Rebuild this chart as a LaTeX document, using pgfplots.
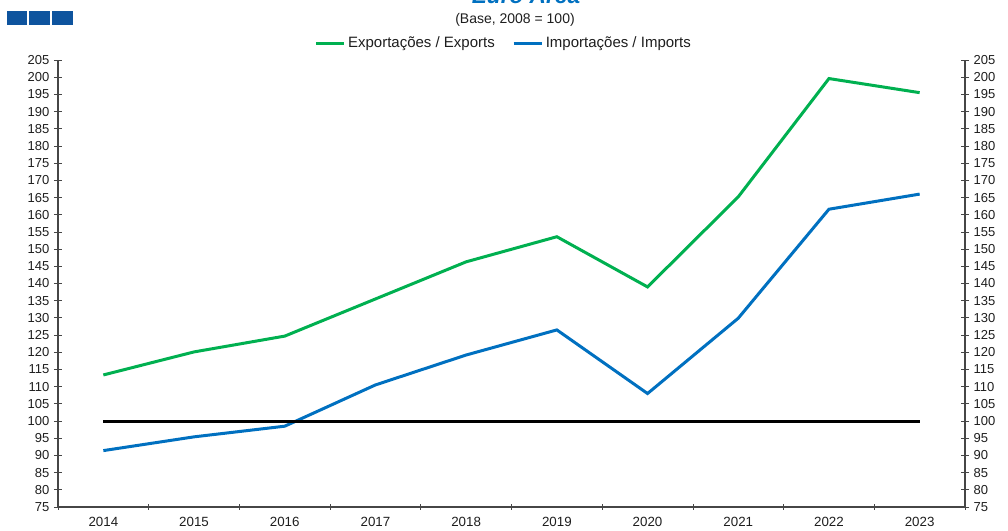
\documentclass[border=0pt]{standalone}
\usepackage{fontspec}
\setmainfont{Liberation Sans}
\usepackage{pgfplots}
\pgfplotsset{compat=1.18}
\definecolor{expgreen}{RGB}{0,176,80}
\definecolor{impblue}{RGB}{0,112,192}
\definecolor{boxblue}{RGB}{14,84,158}
\definecolor{axgray}{RGB}{70,70,70}
\definecolor{txt}{RGB}{30,30,30}

\begin{document}
\begin{tikzpicture}
\path[use as bounding box] (-43.5pt,-18pt) rectangle (712.5pt,380.25pt);

% header
\fill[boxblue] (-38pt,361.5pt) rectangle (-23pt,372pt);
\fill[boxblue] (-21.75pt,361.5pt) rectangle (-6pt,372pt);
\fill[boxblue] (-4.7pt,361.5pt) rectangle (11pt,372pt);
\node[anchor=base, font=\fontsize{17}{20}\selectfont\bfseries\itshape, text=impblue] at (351pt,377.5pt) {Euro Area};
\node[font=\fontsize{10.5}{12}\selectfont, text=txt] at (342.75pt,365.6pt) {(Base, 2008 = 100)};

\begin{axis}[
  scale only axis,
  width=680.25pt, height=335.25pt,
  xmin=-0.5, xmax=9.5,
  ymin=75, ymax=205,
  axis x line*=bottom, axis y line*=left,
  axis line style={axgray, line width=0.9pt},
  xtick={0,...,9},
  xticklabels={2014,2015,2016,2017,2018,2019,2020,2021,2022,2023},
  major x tick style={draw=none},
  minor xtick={-0.5,0.5,...,9.5},
  minor tick length=4.5pt,
  ytick={75,80,...,205},
  major tick length=6pt,
  tick align=center,
  tick style={axgray, line width=0.6pt},
  x tick label style={font=\fontsize{10}{12}\selectfont, text=txt, yshift=-1pt},
  y tick label style={font=\fontsize{9.75}{12}\selectfont, text=txt},
  /pgf/number format/assume math mode=true,
  /pgf/number format/1000 sep={},
  legend columns=2,
  legend style={at={(0.4917,1.038)}, anchor=center, draw=none, fill=none,
    font=\fontsize{11.25}{13}\selectfont, text=txt, inner sep=0pt,
    /tikz/every even column/.append style={column sep=11pt}},
  legend image code/.code={\draw[#1] (0pt,0pt) -- (21pt,0pt);},
  clip=false,
]
\addplot[expgreen, line width=2.25pt] coordinates {
  (0,113.4) (1,120.1) (2,124.7) (3,135.5) (4,146.3)
  (5,153.6) (6,139.0) (7,165.2) (8,199.6) (9,195.5)
};
\addlegendentry{Exportações / Exports}
\addplot[impblue, line width=2.25pt] coordinates {
  (0,91.4) (1,95.4) (2,98.5) (3,110.5) (4,119.2)
  (5,126.5) (6,108.0) (7,129.9) (8,161.6) (9,166.0)
};
\addlegendentry{Importações / Imports}
\addplot[black, line width=2.25pt, forget plot] coordinates {
  (0,100) (9,100)
};
\end{axis}

\begin{axis}[
  scale only axis,
  width=680.25pt, height=335.25pt,
  xmin=-0.5, xmax=9.5,
  ymin=75, ymax=205,
  axis x line=none, axis y line*=right,
  axis line style={axgray, line width=0.9pt},
  ytick={75,80,...,205},
  major tick length=6pt,
  tick align=center,
  tick style={axgray, line width=0.6pt},
  y tick label style={font=\fontsize{9.75}{12}\selectfont, text=txt},
  /pgf/number format/assume math mode=true,
]
\addplot[draw=none, forget plot] coordinates {(0,100)};
\end{axis}
\end{tikzpicture}
\end{document}
